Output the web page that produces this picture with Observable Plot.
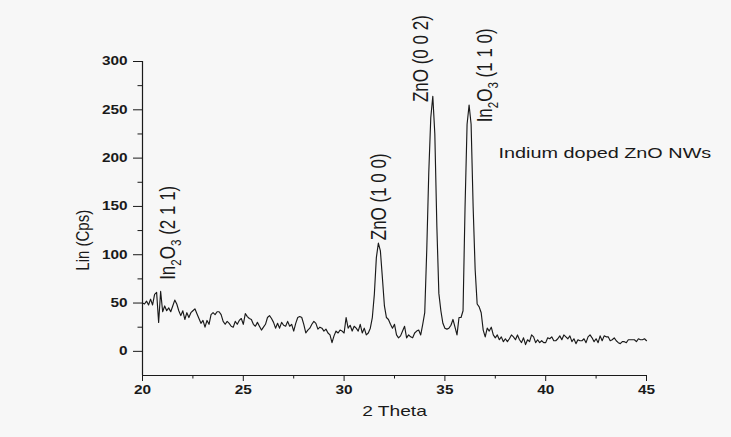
<!DOCTYPE html>
<html><head><meta charset="utf-8">
<script src="https://cdn.jsdelivr.net/npm/d3@7"></script>
<script src="https://cdn.jsdelivr.net/npm/@observablehq/plot@0.6"></script>
<style>
html,body{margin:0;padding:0;background:#f7f7f7;}
#chart{width:731px;height:437px;}
</style></head><body><div id="chart"></div>
<script>
// XRD scan: 2-theta from 20 to 45 deg in 0.1 deg steps
const scanStart = 20;
const scanStep = 0.1;
const counts = [
  50, 49, 52, 48, 54, 48, 59, 61, 30, 62,
  41, 47, 42, 45, 41, 47, 53, 49, 42, 37,
  42, 33, 40, 35, 40, 42, 44, 39, 34, 29,
  32, 25, 32, 28, 38, 40, 38, 41, 41, 38,
  31, 28, 31, 29, 26, 25, 31, 28, 32, 34,
  28, 39, 36, 34, 33, 28, 26, 30, 26, 22,
  25, 28, 35, 37, 34, 30, 24, 29, 24, 30,
  27, 26, 31, 26, 28, 21, 29, 35, 36, 35,
  28, 19, 22, 24, 28, 31, 29, 23, 25, 24,
  21, 23, 19, 17, 9, 16, 21, 19, 22, 21,
  19, 35, 24, 27, 21, 26, 24, 21, 28, 19,
  24, 17, 19, 24, 35, 59, 97, 112, 104, 76,
  47, 35, 33, 28, 24, 28, 17, 14, 16, 21,
  26, 14, 17, 15, 14, 19, 21, 22, 17, 28,
  40, 105, 185, 242, 264, 225, 130, 60, 42, 29,
  24, 23, 24, 27, 33, 25, 17, 35, 35, 42,
  150, 235, 255, 235, 150, 85, 49, 46, 40, 22,
  15, 24, 21, 25, 17, 14, 17, 12, 15, 10,
  13, 10, 13, 17, 15, 12, 17, 12, 9, 14,
  7, 12, 10, 17, 15, 9, 12, 9, 11, 9,
  9, 14, 13, 15, 11, 11, 13, 16, 12, 17,
  15, 13, 16, 10, 13, 8, 12, 11, 11, 13,
  9, 15, 17, 14, 10, 13, 9, 16, 11, 16,
  15, 15, 11, 12, 14, 11, 9, 8, 10, 10,
  9, 12, 12, 12, 12, 10, 13, 12, 12, 13, 11
];

const xTicks = [20, 25, 30, 35, 40, 45];
const xMinorTicks = [22.5, 27.5, 32.5, 37.5, 42.5];
const yTicks = [0, 50, 100, 150, 200, 250, 300];
const yMinorTicks = [25, 75, 125, 175, 225, 275];

const peakLabels = ["In2O3 (2 1 1)", "ZnO (1 0 0)", "ZnO (0 0 2)", "In2O3 (1 1 0)"];
const peakLabelTheta = [21.25, 31.71, 33.84, 37.0];
const peakLabelCounts = [74, 115, 258, 237];

const sampleName = "Indium doped ZnO NWs";
const sampleTheta = 37.66;
const sampleCounts = 205;

const xTitle = "2 Theta";
const yTitle = "Lin (Cps)";
const yTitleAt = 115; // vertical centre of the y title, in counts

const scan = counts.map((c, i) => ({theta: scanStart + i * scanStep, counts: c}));
const labelRows = peakLabels.map((t, i) => ({label: t, theta: peakLabelTheta[i], counts: peakLabelCounts[i]}));

const font = "Liberation Sans, Arial, sans-serif";
const ink = "#1a1a1a";
const annFont = 17;

const svg = Plot.plot({
  width: 731,
  height: 437,
  marginLeft: 142,
  marginRight: 85,
  marginTop: 61,
  marginBottom: 62,
  style: {fontFamily: font, background: "#f7f7f7", color: ink, overflow: "visible"},
  x: {domain: [20, 45]},
  y: {domain: [-25, 300]},
  marks: [
    Plot.ruleX([20], {stroke: ink, strokeWidth: 1.2}),
    Plot.ruleY([-25], {stroke: ink, strokeWidth: 1.2}),
    Plot.axisX(xTicks, {tickSize: 6, tickPadding: 4, fontSize: 12, fontWeight: "bold", label: null}),
    Plot.axisX(xMinorTicks, {tickSize: 3.5, tickFormat: () => "", label: null}),
    Plot.axisY(yTicks, {tickSize: 9, tickPadding: 6, fontSize: 12, fontWeight: "bold", label: null}),
    Plot.axisY(yMinorTicks, {tickSize: 4.5, tickFormat: () => "", label: null}),
    Plot.line(scan, {x: "theta", y: "counts", stroke: ink, strokeWidth: 1.15}),
    Plot.text(labelRows, {x: "theta", y: "counts", text: "label", rotate: -90, textAnchor: "start", fontSize: annFont, fill: ink}),
    Plot.text([sampleName], {x: () => sampleTheta, y: () => sampleCounts, text: d => d, textAnchor: "start", fontSize: 15.5, fill: ink}),
    Plot.text([xTitle], {frameAnchor: "bottom", dy: 40, text: d => d, fontSize: 15, fill: ink}),
    Plot.text([yTitle], {x: () => scanStart, y: () => yTitleAt, dx: -60, rotate: -90, text: d => d, fontSize: 15, fill: ink})
  ]
});

// horizontal stretch of all text, as in the reference figure
const stretch = 1.28;
d3.select(svg).selectAll("text").each(function () {
  const t = this.getAttribute("transform");
  if (t) {
    this.setAttribute("transform", t.replace(/^(translate\([^)]*\))/, `$1 scale(${stretch},1)`));
  } else {
    const x = +this.getAttribute("x") || 0;
    this.removeAttribute("x");
    this.setAttribute("transform", `translate(${x},0) scale(${stretch},1)`);
  }
  // subscripts for In2O3
  const m = /^In2O3(.*)$/.exec(this.textContent);
  if (m) {
    const fs = annFont;
    this.textContent = "";
    const sel = d3.select(this);
    sel.append("tspan").text("In");
    sel.append("tspan").attr("font-size", fs * 0.68).attr("dy", fs * 0.28).text("2");
    sel.append("tspan").attr("dy", -fs * 0.28).text("O");
    sel.append("tspan").attr("font-size", fs * 0.68).attr("dy", fs * 0.28).text("3");
    sel.append("tspan").attr("dy", -fs * 0.28).text(m[1]);
  }
});

document.getElementById("chart").appendChild(svg);
</script>
</body></html>
